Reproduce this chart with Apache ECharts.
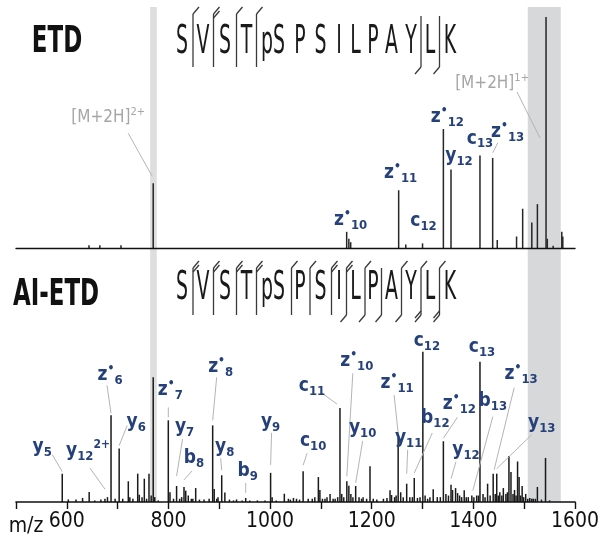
<!DOCTYPE html>
<html><head><meta charset="utf-8">
<script src="https://cdn.jsdelivr.net/npm/echarts@6/dist/echarts.min.js"></script>
<style>html,body{margin:0;padding:0;background:#fff}#c{width:603px;height:545px}</style>
</head><body><div id="c"></div>
<script>
// ---------------- DATA ----------------
const mzRange = [500, 1600];
const tickLabels = [600, 800, 1000, 1200, 1400, 1600];
const shadedBands = [[764, 777], [1507, 1572]];

const sequence = ['S','V','S','T','pS','P','S','I','L','P','A','Y','L','K'];
// number of N-terminal (top) and C-terminal (bottom) fragment marks per cleavage site 1..13
const etdNterm = [1,2,1,1,0,0,0,0,0,0,0,0,0];
const etdCterm = [0,0,0,0,0,0,0,0,0,0,0,1,1];
const aiNterm  = [2,2,2,2,1,1,2,2,1,0,1,1,1];
const aiCterm  = [0,0,0,0,0,0,0,1,1,1,1,2,2];

// ETD spectrum (m/z, relative intensity)
const etdMz  = [643.6, 665, 706.6, 770, 1150.7, 1155, 1158.6, 1253, 1267, 1300, 1341, 1356, 1413, 1438, 1447, 1485, 1497, 1515, 1526, 1543, 1545.5, 1557, 1574, 1576];
const etdInt = [1.2, 1.2, 1.2, 28, 7, 4, 2.5, 25, 1.5, 2, 51.5, 34, 40, 39, 3.5, 5, 17, 11, 19, 100, 4, 1, 7, 5];

// AI-ETD spectrum (m/z, relative intensity)
const aiMz = [591, 603, 618, 631, 644, 655, 667, 675, 680, 687, 695, 703, 710, 721, 724, 730, 739.5, 742.6, 748, 752.5, 757, 761.7, 766, 770, 773, 780,
  799.7, 803, 810, 816, 822, 826, 830.6, 834, 839, 845, 848, 853.6, 861, 870, 880, 887, 890, 895, 897.5, 904.8, 911, 920, 928, 934, 945, 952, 960, 975, 990,
  1001, 1004, 1012, 1028, 1036, 1040, 1046, 1052, 1058, 1065, 1075, 1083, 1088, 1095, 1098, 1103, 1108, 1112, 1118, 1124, 1128, 1133, 1137.5, 1141, 1145,
  1151, 1155, 1159, 1163, 1168.4, 1175, 1180, 1183, 1190, 1196.6, 1203, 1210, 1223, 1230, 1236, 1239, 1245, 1248, 1252, 1257, 1262, 1268.8, 1275, 1280,
  1283.7, 1290, 1295, 1300.6, 1305, 1310, 1314.5, 1321, 1329, 1335, 1341, 1346, 1351, 1356, 1359, 1365, 1369, 1373, 1377, 1382, 1386, 1390, 1397, 1401,
  1406.5, 1410, 1413, 1419, 1423, 1428, 1433, 1439, 1443, 1446, 1449, 1452, 1456, 1459, 1464, 1467, 1470, 1474, 1478, 1481, 1484, 1487, 1490, 1493, 1496,
  1499, 1503, 1507, 1511, 1515, 1518, 1522, 1526, 1534, 1542, 1550];
const aiInt = [17.5, 1.6, 1.5, 2.5, 6.2, 1, 1.5, 2, 3, 53.5, 2, 33, 2, 12.8, 3, 2, 17.5, 4.5, 3, 14.4, 2, 17.5, 4, 77, 3, 1,
  50.4, 6, 2, 9.9, 2, 3, 9.3, 7, 4, 2, 2, 8.6, 1.5, 1.5, 2, 47.3, 8, 2, 3, 16.5, 5.8, 1.5, 1, 1.6, 1, 2.5, 1, 1, 1,
  18, 3, 1, 5.1, 2, 1.5, 2.5, 2, 1.5, 19, 2, 2, 3, 15.4, 7.4, 2, 2, 3, 5, 2, 2, 3, 58, 5, 3,
  12.8, 10, 5, 3, 9.9, 3, 2, 3, 2, 22, 2, 1.5, 2, 2.5, 7.2, 4.3, 3, 4, 39.5, 6, 3, 11.3, 3, 3,
  14.8, 2.5, 3, 92.8, 4, 2, 3, 7.8, 3, 3, 37.5, 5, 4, 10.7, 7.4, 8.6, 5.5, 4, 3, 7.2, 3, 3, 4, 3,
  4, 4, 86.6, 5, 3, 11.3, 4, 17.5, 5, 17.5, 4, 6, 4, 8.6, 5, 6, 28.4, 18.5, 5, 7.4, 4, 25, 15.4, 4, 9.9,
  3, 5, 2, 2.5, 2, 2, 2, 9.3, 1.5, 27.2, 1];

// Annotated ions
const etdIons  = ['z•10','z•11','c12','z•12','y12','c13','z•13','[M+2H]^2+','[M+2H]^1+'];
const etdIonMz = [1150.7, 1253, 1300, 1341, 1356, 1413, 1438, 770, 1543];
const aiIons  = ['y5','y12^2+','z•6','y6','z•7','y7','b8','z•8','y8','b9','y9','c10','c11','z•10','y10','z•11','y11','b12','c12','z•12','y12','c13','b13','z•13','y13'];
const aiIonMz = [591, 680, 687, 703, 799.7, 816, 830.6, 887, 904.8, 952, 1001, 1065, 1137.5, 1151, 1168.4, 1252, 1268.8, 1283.7, 1300.6, 1341, 1356, 1413, 1397, 1439, 1446];

// ---------------- LAYOUT (pixels) ----------------
const etdLabelOffset = [[4,-12],[2,-17],[1,-22],[4,-12],[8,-13],[0,-17],[15,-26],[-45,-66],[-54,67]];
const etdLeaderFrom  = [null,null,null,null,null,null,[-10,11],[20,16],[25,8]];
const etdLeaderTo    = [null,null,null,null,null,null,[0,-5],[-1,-7],[-6,121]];
const aiLabelOffset = [[-20,-27],[-19.5,-46],[-1,-40],[17,-26],[2,-30],[8,-59],[10,-29],[8,-58],[3,-28],[2,-27],[0,-51],[10,-30],[-28,-22],
  [10,-120],[7,-58],[-1,-55],[2,-46],[21,-60],[4,-11],[16,-37],[15,-35],[2,-15],[21,-94],[28,-100],[45,-51]];
const aiLeaderFrom = [[10,8],[2,17],[-3,10],[-9,3],[-2,17],[-2,12],[-2,13],[-4,10],[-4,11],[-2,12],[1,11],[-6,12],[10,7],
  [-4,12],[0,13],[-3,12],[-1,12],[-3,15],null,[-2,13],[-10,12],null,[0,15],[-7,14],[-10,12]];
const aiLeaderTo = [[0,-2],[-2.5,-8],[0,-2],[0,-3],[0,-3],[0,-10],[0,-7],[0,-5],[0,-5],[0,-5],[0,-8],[0,-6],[-3,-4],
  [0,-5],[0,-3],[0,-5],[0,-10],[0,-5],null,[0,-3],[0,-6],null,[1,-5],[1,-4],[0,-5]];
const seqLetterX = [182, 203, 225, 246.5, 273, 300, 320.5, 339, 355.5, 373, 391.5, 411, 430, 450];
const seqCutX = [193, 213.5, 236.5, 256.5, 291.5, 310, 331.5, 346.5, 365, 381.5, 401.5, 421, 439.5];

const F = '"DejaVu Sans Condensed", "Liberation Sans Narrow", sans-serif';
const NAVY = '#25407a';
const GRAYTXT = '#a6a6a6';

function nearestInt(mzArr, intArr, m) {
  let b = 0;
  for (let i = 1; i < mzArr.length; i++) if (Math.abs(mzArr[i] - m) < Math.abs(mzArr[b] - m)) b = i;
  return intArr[b];
}
function ionRich(name) {
  if (name[0] === '[') { const p = name.split('^'); return '{g|' + p[0] + '}{gp|' + p[1] + '}'; }
  const p = name.split('^');
  const core = p[0];
  let s = '{m|' + core[0] + '}';
  if (core.indexOf('•') >= 0) s += '{d|•}';
  s += '{s|' + core.replace(/[^0-9]/g, '') + '}';
  if (p[1]) s += '{p|' + p[1] + '}';
  return s;
}
const rich = {
  m: {fontFamily: F, fontWeight: 'bold', fontSize: 19, lineHeight: 24, verticalAlign: 'middle', fill: NAVY, color: NAVY},
  d: {fontFamily: F, fontWeight: 'bold', fontSize: 12, lineHeight: 12, verticalAlign: 'top', fill: NAVY, color: NAVY},
  s: {fontFamily: F, fontWeight: 'bold', fontSize: 13, lineHeight: 13, verticalAlign: 'bottom', fill: NAVY, color: NAVY},
  p: {fontFamily: F, fontWeight: 'bold', fontSize: 12, lineHeight: 12, verticalAlign: 'top', fill: NAVY, color: NAVY},
  g: {fontFamily: F, fontSize: 17, lineHeight: 22, verticalAlign: 'middle', fill: GRAYTXT, color: GRAYTXT},
  gp: {fontFamily: F, fontSize: 11, lineHeight: 11, verticalAlign: 'top', fill: GRAYTXT, color: GRAYTXT}
};

function stickRender(color) {
  return function (params, api) {
    const p0 = api.coord([api.value(0), 0]);
    const p1 = api.coord([api.value(0), api.value(1)]);
    return {type: 'line', shape: {x1: p0[0], y1: p0[1], x2: p1[0], y2: p1[1]}, style: {stroke: color, lineWidth: 1.5}};
  };
}
function labelRender(names, offs, froms, tos) {
  return function (params, api) {
    const idx = api.value(2);
    const top = api.coord([api.value(0), api.value(1)]);
    const cx = top[0] + offs[idx][0], cy = top[1] + offs[idx][1];
    const children = [];
    if (froms[idx]) {
      const to = tos[idx] || [0, -2];
      children.push({type: 'line', shape: {x1: cx + froms[idx][0], y1: cy + froms[idx][1], x2: top[0] + to[0], y2: top[1] + to[1]},
        style: {stroke: '#b4b4b4', lineWidth: 1}});
    }
    children.push({type: 'text', x: cx, y: cy,
      style: {text: ionRich(names[idx]), rich: rich, align: 'center', verticalAlign: 'middle', textAlign: 'center', textVerticalAlign: 'middle'}});
    return {type: 'group', children: children};
  };
}

// sequence graphics
function seqGraphics(cy, nterm, cterm, lineTop, lineBot, cLineTop, allLines) {
  const els = [];
  sequence.forEach((r, i) => {
    els.push({type: 'text', x: seqLetterX[i], y: cy, scaleX: 0.75, scaleY: 1.4, z: 20,
      style: {text: r, font: '28px ' + F, fill: '#1a1a1a', align: 'center', verticalAlign: 'middle', textAlign: 'center', textVerticalAlign: 'middle'}});
  });
  const st = {stroke: '#3a3a3a', lineWidth: 1.3};
  seqCutX.forEach((x, i) => {
    const n = nterm[i], c = cterm[i];
    if (!n && !c) {
      if (allLines) els.push({type: 'line', shape: {x1: x, y1: lineTop, x2: x, y2: lineBot}, style: st, z: 20});
      return;
    }
    const t = n ? lineTop : cLineTop;
    els.push({type: 'line', shape: {x1: x, y1: t, x2: x, y2: lineBot}, style: st, z: 20});
    for (let k = 0; k < n; k++) els.push({type: 'line', shape: {x1: x, y1: t + 4 * k, x2: x + 6, y2: t + 4 * k - 7}, style: st, z: 20});
    for (let k = 0; k < c; k++) els.push({type: 'line', shape: {x1: x, y1: lineBot - 4 * k, x2: x - 6, y2: lineBot - 4 * k + 7}, style: st, z: 20});
  });
  return els;
}

const graphics = [].concat(
  [{type: 'text', x: 57, y: 42, scaleX: 0.85, scaleY: 1.25, style: {text: 'ETD', font: 'bold 30px ' + F, fill: '#111', align: 'center', verticalAlign: 'middle', textAlign: 'center', textVerticalAlign: 'middle'}},
   {type: 'text', x: 56, y: 295, scaleX: 0.85, scaleY: 1.25, style: {text: 'AI-ETD', font: 'bold 30px ' + F, fill: '#111', align: 'center', verticalAlign: 'middle', textAlign: 'center', textVerticalAlign: 'middle'}},
   {type: 'text', x: 26, y: 527, style: {text: 'm/z', font: '21px ' + F, fill: '#111', align: 'center', verticalAlign: 'middle', textAlign: 'center', textVerticalAlign: 'middle'}}],
  seqGraphics(43, etdNterm, etdCterm, 14, 67, 16, false),
  seqGraphics(288.5, aiNterm, aiCterm, 268, 315, 268, true)
);

const chart = echarts.init(document.getElementById('c'), null, {renderer: 'canvas'});
const xBase = {type: 'value', min: mzRange[0], max: mzRange[1], interval: 100, splitLine: {show: false}, z: 10};
chart.setOption({
  animation: false,
  backgroundColor: '#fff',
  grid: [
    {left: 16, right: 28, top: 17, height: 231},
    {left: 16, right: 28, top: 340, height: 162},
    {left: 16, right: 28, top: 7, height: 495}
  ],
  xAxis: [
    Object.assign({}, xBase, {gridIndex: 0, axisLine: {show: true, lineStyle: {color: '#111', width: 1.4}}, axisTick: {show: false}, axisLabel: {show: false}}),
    Object.assign({}, xBase, {gridIndex: 1, axisLine: {show: true, lineStyle: {color: '#111', width: 1.6}},
      axisTick: {show: true, length: 7, lineStyle: {color: '#111', width: 1.4}},
      axisLabel: {show: true, fontFamily: F, fontSize: 21, color: '#111', margin: 9, showMinLabel: true, showMaxLabel: true,
        formatter: v => (tickLabels.indexOf(v) >= 0 ? String(v) : '')}}),
    Object.assign({}, xBase, {gridIndex: 2, show: false})
  ],
  yAxis: [
    {type: 'value', gridIndex: 0, min: 0, max: 100, show: false},
    {type: 'value', gridIndex: 1, min: 0, max: 100, show: false},
    {type: 'value', gridIndex: 2, min: 0, max: 100, show: false}
  ],
  graphic: graphics,
  series: [
    {type: 'custom', xAxisIndex: 2, yAxisIndex: 2, z: 1, silent: true,
      data: shadedBands.map(b => [b[0], b[1]]),
      renderItem: function (params, api) {
        const a = api.coord([api.value(0), 100]);
        const b = api.coord([api.value(1), 0]);
        return {type: 'rect', shape: {x: a[0], y: a[1], width: b[0] - a[0], height: b[1] - a[1]},
          style: {fill: params.dataIndex === 0 ? '#dedede' : '#d7d8d9'}};
      }},
    {type: 'custom', xAxisIndex: 0, yAxisIndex: 0, z: 3, silent: true,
      data: etdMz.map((m, i) => [m, etdInt[i]]), renderItem: stickRender('#262626')},
    {type: 'custom', xAxisIndex: 1, yAxisIndex: 1, z: 3, silent: true,
      data: aiMz.map((m, i) => [m, aiInt[i]]), renderItem: stickRender('#1a1a1a')},
    {type: 'custom', xAxisIndex: 0, yAxisIndex: 0, z: 5, silent: true,
      data: etdIons.map((n, i) => [etdIonMz[i], nearestInt(etdMz, etdInt, etdIonMz[i]), i]),
      renderItem: labelRender(etdIons, etdLabelOffset, etdLeaderFrom, etdLeaderTo)},
    {type: 'custom', xAxisIndex: 1, yAxisIndex: 1, z: 5, silent: true,
      data: aiIons.map((n, i) => [aiIonMz[i], nearestInt(aiMz, aiInt, aiIonMz[i]), i]),
      renderItem: labelRender(aiIons, aiLabelOffset, aiLeaderFrom, aiLeaderTo)}
  ]
});
</script></body></html>
